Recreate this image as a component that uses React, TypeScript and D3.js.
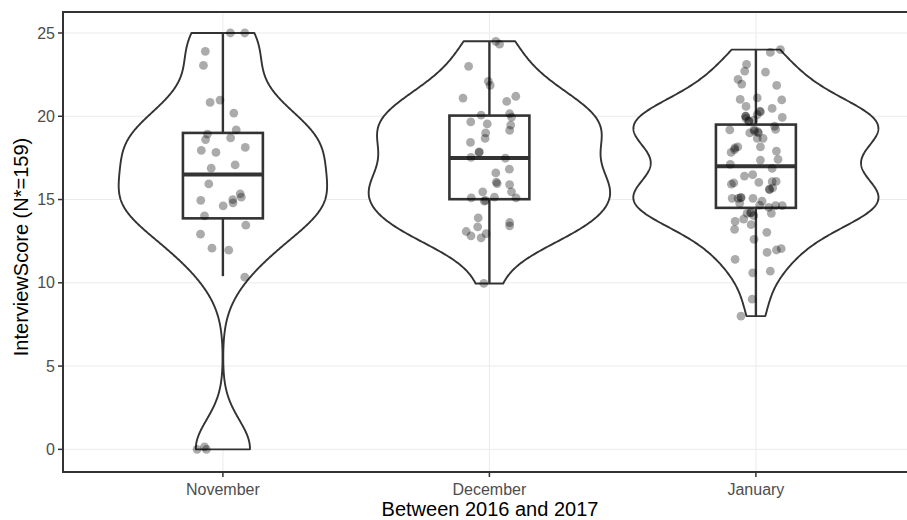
import React, { useRef, useEffect } from 'react';
import * as d3 from 'd3';

const months = ['November', 'December', 'January'];
const yTicks = [0, 5, 10, 15, 20, 25];

const novScores = [25, 25, 23.9, 23.05, 20.83, 20.97, 20.19, 19.18, 18.93, 18.6, 18.7, 18.13, 17.95, 17.83, 16.88, 17.08,
    15.94, 14.95, 14.62, 15.0, 14.8, 15.34, 15.14, 14.02, 13.46, 12.92, 12.08, 11.96, 10.34, 0, 0.15, 0];
const novJitter = [0.028, 0.082, -0.066, -0.073, -0.048, -0.011, 0.041, 0.05, -0.058, -0.065, 0.029, 0.084, -0.081, -0.026, -0.044, 0.046,
    -0.053, -0.083, 0.001, 0.037, 0.038, 0.065, 0.069, -0.069, 0.086, -0.084, -0.041, 0.022, 0.082, -0.097, -0.069, -0.062];

const decScores = [24.5, 24.33, 23.0, 22.1, 21.85, 21.09, 20.89, 21.2, 20.07, 20.15, 19.95, 19.66, 19.54, 19.47, 19.15, 19.0,
    18.67, 18.43, 17.86, 17.83, 17.53, 17.48, 16.6, 16.82, 16.04, 15.96, 15.9, 15.46, 15.46, 15.1, 14.9, 14.95,
    15.14, 15.1, 13.9, 13.62, 13.42, 13.36, 13.08, 12.82, 12.7, 12.95, 9.96];
const decJitter = [0.024, 0.038, -0.078, -0.004, 0.003, -0.099, 0.065, 0.099, -0.031, 0.076, 0.083, -0.07, -0.008, 0.08, 0.076, -0.014,
    -0.016, -0.071, -0.038, -0.039, -0.069, 0.06, 0.024, 0.075, 0.026, 0.029, 0.076, -0.025, 0.083, -0.068, -0.019, -0.015,
    0.019, 0.1, -0.042, 0.076, 0.076, -0.044, -0.087, -0.069, -0.031, -0.012, -0.021];

const janScores = [24.0, 23.83, 23.11, 22.71, 22.65, 22.21, 21.93, 21.85, 21.01, 21.1, 20.98, 20.59, 20.47, 20.26, 20.0, 19.87,
    19.93, 19.71, 19.77, 20.1, 19.18, 19.0, 19.2, 19.07, 19.21, 18.67, 18.67, 18.16, 18.16, 18.0, 17.83, 17.91,
    17.41, 17.37, 17.11, 16.87, 16.41, 16.49, 16.03, 16.07, 16.09, 15.92, 16.0, 15.7, 15.62, 15.07, 15.07, 15.13,
    15.07, 14.77, 14.9, 14.66, 14.53, 14.63, 14.63, 14.17, 14.21, 14.03, 13.83, 14.17, 13.69, 13.49, 13.21, 13.03,
    12.61, 11.83, 11.97, 12.05, 11.41, 10.6, 10.7, 9.02, 8.0,
    20.0, 19.1, 19.0, 18.1, 19.7, 20.3, 19.4, 15.1, 14.2, 15.6];
const janJitter = [0.092, 0.054, -0.035, -0.042, 0.036, -0.067, -0.053, 0.078, -0.059, 0.005, 0.097, -0.037, 0.061, 0.017, -0.038, -0.037,
    0.099, -0.027, -0.008, 0.005, -0.098, -0.023, -0.007, 0.007, 0.074, 0.005, 0.027, 0.017, -0.068, -0.08, -0.093, 0.077,
    0.083, 0.017, -0.096, 0.061, -0.043, -0.012, 0.011, 0.061, 0.076, -0.092, -0.083, 0.063, 0.051, -0.089, -0.067, -0.056,
    -0.011, -0.061, 0.023, 0.014, 0.048, 0.074, 0.099, -0.033, -0.018, -0.008, -0.046, 0.058, -0.078, -0.018, -0.08, 0.041,
    -0.007, 0.042, 0.077, 0.095, -0.078, -0.012, 0.054, -0.014, -0.056,
    -0.039, -0.005, 0.01, -0.079, -0.026, 0.015, 0.07, -0.056, -0.02, 0.051];

// box plot summaries
const q1 = [13.87, 15.02, 14.5];
const medians = [16.5, 17.5, 17.0];
const q3 = [19.0, 20.04, 19.5];
const whiskerLow = [10.4, 9.96, 8.0];
const whiskerHigh = [25, 24.5, 24.0];

const scores = [novScores, decScores, janScores];
const jitters = [novJitter, decJitter, janJitter];

// gaussian kde, bw.nrd0, trimmed to data range (like ggplot's stat_ydensity)
const kde = (values: number[]) => {
    const v = values.slice().sort(d3.ascending);
    const sd = d3.deviation(v) as number;
    const iqr = (d3.quantile(v, 0.75) as number) - (d3.quantile(v, 0.25) as number);
    const bw = 0.9 * Math.min(sd, iqr / 1.34) * Math.pow(v.length, -0.2);
    const [mn, mx] = d3.extent(v) as [number, number];
    return d3.range(512).map(i => {
        const y = mn + (mx - mn) * i / 511;
        const d = d3.mean(v, s => Math.exp(-0.5 * ((y - s) / bw) ** 2)) as number / (bw * Math.sqrt(2 * Math.PI));
        return { y, d };
    });
};

const App = () => {
    const chartRef = useRef<SVGSVGElement>(null);

    useEffect(() => {
        const svg = d3.select(chartRef.current);
        svg.selectAll('*').remove();

        const left = 63, top = 12, bottom = 472;
        const x = d3.scalePoint().domain(months).range([left, left + 3.2 * 266.5]).padding(0.6);
        const step = x.step();
        const y = d3.scaleLinear().domain([-1.36, 26.26]).range([bottom, top]);
        const font = 'Liberation Sans, Arial, sans-serif';

        // grid
        svg.append('g').selectAll('line.h').data(yTicks).enter().append('line')
            .attr('x1', left).attr('x2', 907).attr('y1', d => y(d)).attr('y2', d => y(d))
            .attr('stroke', '#ebebeb').attr('stroke-width', 1);
        svg.append('g').selectAll('line.v').data(months).enter().append('line')
            .attr('x1', d => x(d)!).attr('x2', d => x(d)!).attr('y1', top).attr('y2', bottom)
            .attr('stroke', '#ebebeb').attr('stroke-width', 1);

        // violins
        const dens = scores.map(kde);
        const maxD = d3.max(dens, g => d3.max(g, p => p.d)) as number;
        dens.forEach((g, i) => {
            const cx = x(months[i])!;
            const w = (d: number) => d / maxD * 0.46 * step;
            const area = d3.area<{ y: number; d: number }>()
                .y(p => y(p.y))
                .x0(p => cx - w(p.d))
                .x1(p => cx + w(p.d));
            svg.append('path').attr('d', area(g)!)
                .attr('fill', 'white').attr('stroke', '#333333').attr('stroke-width', 1.9)
                .attr('stroke-linejoin', 'round');
        });

        // boxes
        months.forEach((m, i) => {
            const cx = x(m)!;
            const hw = 0.15 * step;
            const g = svg.append('g').attr('stroke', '#333333');
            g.append('line').attr('x1', cx).attr('x2', cx).attr('y1', y(q3[i])).attr('y2', y(whiskerHigh[i])).attr('stroke-width', 2.4);
            g.append('line').attr('x1', cx).attr('x2', cx).attr('y1', y(q1[i])).attr('y2', y(whiskerLow[i])).attr('stroke-width', 2.4);
            g.append('rect').attr('x', cx - hw).attr('width', 2 * hw)
                .attr('y', y(q3[i])).attr('height', y(q1[i]) - y(q3[i]))
                .attr('fill', 'white').attr('stroke-width', 2.6);
            g.append('line').attr('x1', cx - hw).attr('x2', cx + hw).attr('y1', y(medians[i])).attr('y2', y(medians[i]))
                .attr('stroke-width', 4);
        });

        // jittered points
        months.forEach((m, i) => {
            const cx = x(m)!;
            svg.append('g').selectAll('circle').data(scores[i]).enter().append('circle')
                .attr('cx', (d, j) => cx + jitters[i][j] * step)
                .attr('cy', d => y(d))
                .attr('r', 4.4)
                .attr('fill', '#000').attr('fill-opacity', 0.33);
        });

        // panel border (left, top, bottom; right side is off canvas)
        svg.append('path')
            .attr('d', `M907,${top}H${left}V${bottom}H907`)
            .attr('fill', 'none').attr('stroke', '#333333').attr('stroke-width', 2);

        // y axis
        const yAxis = svg.append('g');
        yAxis.selectAll('line').data(yTicks).enter().append('line')
            .attr('x1', left - 5).attr('x2', left).attr('y1', d => y(d)).attr('y2', d => y(d))
            .attr('stroke', '#333333').attr('stroke-width', 1.5);
        yAxis.selectAll('text').data(yTicks).enter().append('text')
            .attr('x', left - 8).attr('y', d => y(d)).attr('dy', '0.35em')
            .attr('text-anchor', 'end').attr('fill', '#4d4d4d')
            .style('font-family', font).style('font-size', '16px')
            .text(d => d);

        // x axis
        const xAxis = svg.append('g');
        xAxis.selectAll('line').data(months).enter().append('line')
            .attr('x1', d => x(d)!).attr('x2', d => x(d)!).attr('y1', bottom).attr('y2', bottom + 5)
            .attr('stroke', '#333333').attr('stroke-width', 1.5);
        xAxis.selectAll('text').data(months).enter().append('text')
            .attr('x', d => x(d)!).attr('y', 495)
            .attr('text-anchor', 'middle').attr('fill', '#4d4d4d')
            .style('font-family', font).style('font-size', '16px')
            .text(d => d);

        svg.append('text')
            .attr('x', (left + 907 + 10) / 2).attr('y', 516)
            .attr('text-anchor', 'middle').attr('fill', '#000')
            .style('font-family', font).style('font-size', '20px')
            .text('Between 2016 and 2017');

        svg.append('text')
            .attr('transform', `translate(28,${(top + bottom) / 2 + 5}) rotate(-90)`)
            .attr('text-anchor', 'middle').attr('fill', '#000')
            .style('font-family', font).style('font-size', '20px')
            .text('InterviewScore (N*=159)');
    }, []);

    return (
        <svg ref={chartRef} width={907} height={520}
            style={{ position: 'absolute', left: 0, top: 0, background: 'white' }} />
    );
};

export default App;
